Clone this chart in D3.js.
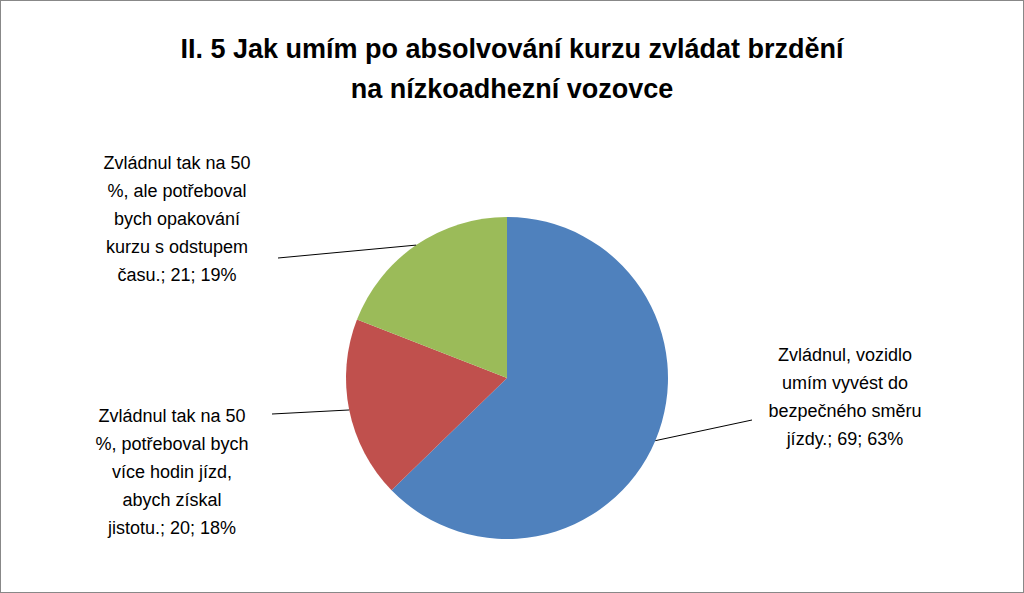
<!DOCTYPE html><html><head><meta charset="utf-8"><script src="https://cdn.jsdelivr.net/npm/d3@7"></script>
<style>body{margin:0;background:#fff}</style></head><body><svg id="c" width="1024" height="593"></svg>
<script>
const categories=["Zvládnul, vozidlo umím vyvést do bezpečného směru jízdy.","Zvládnul tak na 50 %, potřeboval bych více hodin jízd, abych získal jistotu.","Zvládnul tak na 50 %, ale potřeboval bych opakování kurzu s odstupem času."];
const values=[69,20,21];
const percents=["63%","18%","19%"];
const colors=["#4f81bd","#c0504d","#9bbb59"];
const labelLines=[["Zvládnul, vozidlo","umím vyvést do","bezpečného směru","jízdy.; 69; 63%"],["Zvládnul tak na 50","%, potřeboval bych","více hodin jízd,","abych získal","jistotu.; 20; 18%"],["Zvládnul tak na 50","%, ale potřeboval","bych opakování","kurzu s odstupem","času.; 21; 19%"]];
const titleLines=["II. 5 Jak umím po absolvování kurzu zvládat brzdění","na nízkoadhezní vozovce"];
const svg=d3.select("#c");
svg.append("rect").attr("x",0.5).attr("y",0.5).attr("width",1023).attr("height",592).attr("fill","#fff").attr("stroke","#888");
svg.selectAll(".t").data(titleLines).join("text").attr("x",512).attr("y",(d,i)=>58+i*40).attr("text-anchor","middle").attr("font-family","Liberation Sans, Arial").attr("font-weight","bold").attr("font-size",27).attr("fill","#000").text(d=>d);
const cx=507,cy=378,r=161;
const pie=d3.pie().sort(null)(values);
const arc=d3.arc().innerRadius(0).outerRadius(r);
const g=svg.append("g").attr("transform",`translate(${cx},${cy})`);
g.selectAll("path").data(pie).join("path").attr("d",arc).attr("fill",(d,i)=>colors[i]);
const labelPos=[{x:845,y:355,ex:752,ey:420},{x:172,y:416,ex:272,ey:414},{x:177,y:163,ex:278,ey:258}];
pie.forEach((d,i)=>{
 const a=(d.startAngle+d.endAngle)/2;
 const px=cx+r*Math.sin(a),py=cy-r*Math.cos(a);
 const p=labelPos[i];
 svg.append("line").attr("x1",px).attr("y1",py).attr("x2",p.ex).attr("y2",p.ey).attr("stroke","#000").attr("stroke-width",1);
 svg.append("g").selectAll("text").data(labelLines[i]).join("text").attr("x",p.x).attr("y",(t,j)=>p.y+6+j*28).attr("text-anchor","middle").attr("font-family","Liberation Sans, Arial").attr("font-size",18).attr("fill","#000").text(t=>t);
});
</script></body></html>
